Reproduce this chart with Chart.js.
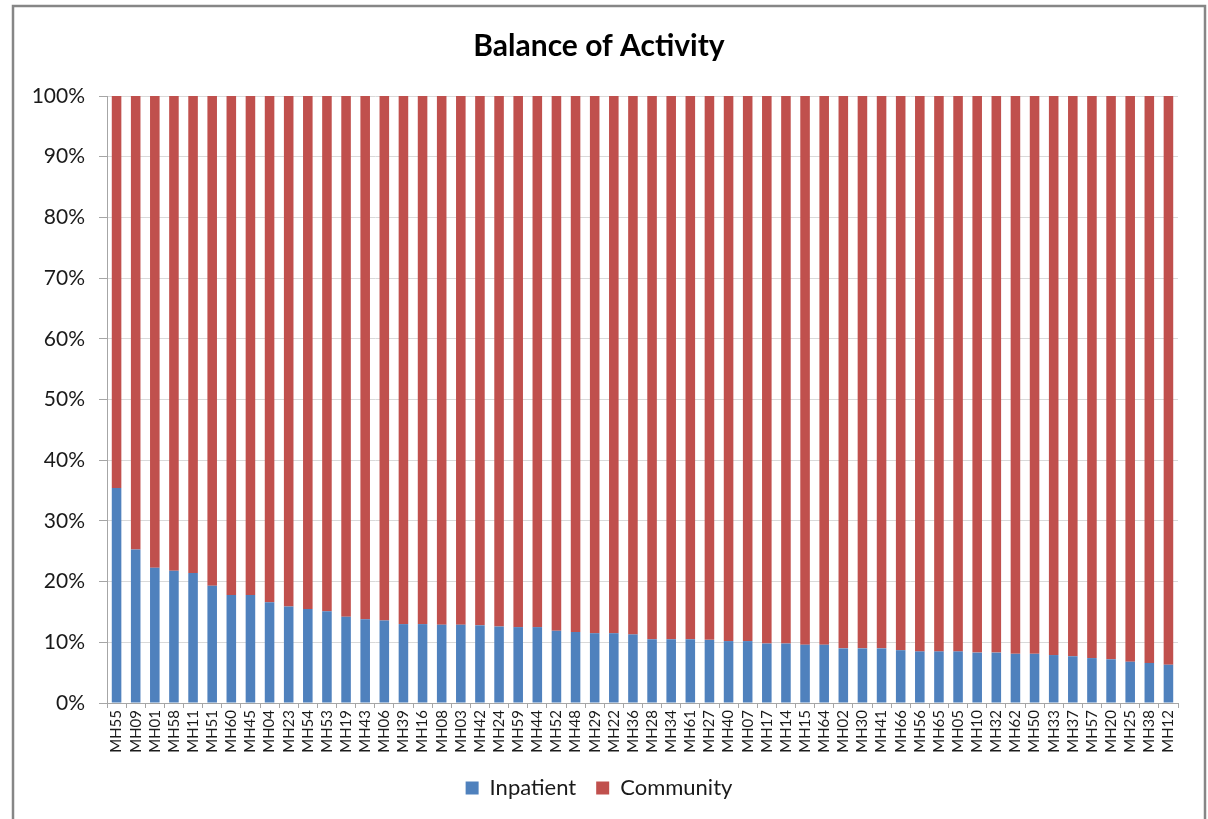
<!DOCTYPE html>
<html>
<head>
<meta charset="utf-8">
<script src="https://cdn.jsdelivr.net/npm/chart.js@4.4.1/dist/chart.umd.min.js"></script>
<style>
  html, body { margin: 0; padding: 0; background: #ffffff; }
  #wrap { position: relative; width: 1208px; height: 819px; }
  canvas { display: block; }
</style>
</head>
<body>
<div id="wrap"><canvas id="c" width="1208" height="819"></canvas></div>
<script>
const categories = ["MH55","MH09","MH01","MH58","MH11","MH51","MH60","MH45","MH04","MH23","MH54","MH53","MH19","MH43","MH06","MH39","MH16","MH08","MH03","MH42","MH24","MH59","MH44","MH52","MH48","MH29","MH22","MH36","MH28","MH34","MH61","MH27","MH40","MH07","MH17","MH14","MH15","MH64","MH02","MH30","MH41","MH66","MH56","MH65","MH05","MH10","MH32","MH62","MH50","MH33","MH37","MH57","MH20","MH25","MH38","MH12"];

const inpatient = [35.4,25.3,22.3,21.8,21.4,19.3,17.8,17.8,16.6,15.9,15.5,15.1,14.2,13.8,13.6,13.0,13.0,12.9,12.9,12.8,12.6,12.5,12.5,11.9,11.7,11.5,11.5,11.3,10.5,10.5,10.5,10.4,10.2,10.2,9.8,9.8,9.6,9.6,9.0,9.0,9.0,8.7,8.5,8.5,8.5,8.3,8.3,8.1,8.1,7.9,7.7,7.4,7.2,6.8,6.6,6.3];

const community = [64.6,74.7,77.7,78.2,78.6,80.7,82.2,82.2,83.4,84.1,84.5,84.9,85.8,86.2,86.4,87.0,87.0,87.1,87.1,87.2,87.4,87.5,87.5,88.1,88.3,88.5,88.5,88.7,89.5,89.5,89.5,89.6,89.8,89.8,90.2,90.2,90.4,90.4,91.0,91.0,91.0,91.3,91.5,91.5,91.5,91.7,91.7,91.9,91.9,92.1,92.3,92.6,92.8,93.2,93.4,93.7];

const yTickValues = [0,10,20,30,40,50,60,70,80,90,100];

const FONT = "Lato, 'Open Sans', 'DejaVu Sans', sans-serif";

const framePlugin = {
  id: 'frame',
  beforeDraw(chart) {
    const ctx = chart.ctx;
    ctx.save();
    ctx.fillStyle = '#ffffff';
    ctx.fillRect(0, 0, chart.width, chart.height);
    ctx.strokeStyle = '#868686';
    ctx.lineWidth = 2.5;
    ctx.strokeRect(13, 6, 1192, 840);
    ctx.restore();
  }
};

new Chart(document.getElementById('c'), {
  type: 'bar',
  data: {
    labels: categories,
    datasets: [
      { label: 'Inpatient', data: inpatient, backgroundColor: '#4F81BD', borderWidth: 0 },
      { label: 'Community', data: community, backgroundColor: '#C0504D', borderWidth: 0 }
    ]
  },
  options: {
    responsive: false,
    animation: false,
    devicePixelRatio: 1,
    layout: { padding: { left: 20, right: 30, top: 20, bottom: 10 } },
    datasets: { bar: { barPercentage: 0.5, categoryPercentage: 1.0 } },
    plugins: {
      title: {
        display: true,
        text: 'Balance of Activity',
        color: '#000000',
        font: { family: FONT, size: 30, weight: 'bold' },
        padding: { top: 8, bottom: 32 }
      },
      legend: {
        display: true,
        position: 'bottom',
        labels: {
          color: '#1a1a1a',
          font: { family: FONT, size: 22 },
          boxWidth: 13,
          boxHeight: 13,
          padding: 20
        }
      },
      tooltip: { enabled: false }
    },
    scales: {
      x: {
        stacked: true,
        afterFit(scale) { scale.height = 54; },
        border: { display: true, color: '#a6a6a6', width: 1 },
        grid: { drawOnChartArea: false, drawTicks: true, tickLength: 5, color: '#a6a6a6', offset: true },
        ticks: {
          autoSkip: false,
          maxRotation: 90,
          minRotation: 90,
          padding: 2,
          color: '#1a1a1a',
          font: { family: FONT, size: 15 }
        }
      },
      y: {
        stacked: true,
        min: 0,
        max: 100,
        afterFit(scale) { scale.width = 87; },
        afterBuildTicks(scale) { scale.ticks = yTickValues.map(v => ({ value: v })); },
        border: { display: true, color: '#a6a6a6', width: 1 },
        grid: { color: '#d9d9d9', tickColor: '#a6a6a6', tickLength: 8, drawTicks: true },
        ticks: {
          padding: 14,
          color: '#1a1a1a',
          font: { family: FONT, size: 21 },
          callback: (v) => v + '%'
        }
      }
    }
  },
  plugins: [framePlugin]
});
</script>
</body>
</html>
